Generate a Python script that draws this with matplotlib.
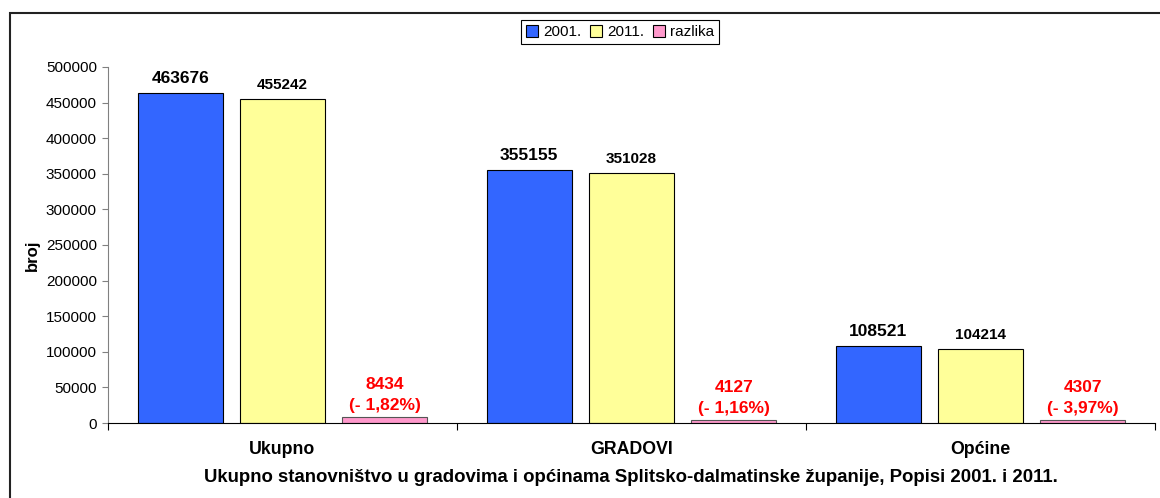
import matplotlib.pyplot as plt
import numpy as np
from matplotlib.patches import Patch, Rectangle

plt.rcParams['font.family'] = ['Liberation Sans', 'DejaVu Sans']

categories = ["Ukupno", "GRADOVI", "Općine"]
pop_2001 = [463676, 355155, 108521]
pop_2011 = [455242, 351028, 104214]
razlika = [8434, 4127, 4307]
razlika_pct = ["- 1,82%", "- 1,16%", "- 3,97%"]
series_names = ["2001.", "2011.", "razlika"]
yticks = [0, 50000, 100000, 150000, 200000, 250000, 300000, 350000, 400000, 450000, 500000]

colors = ["#3366FF", "#FFFF99", "#FF99CC"]

fig = plt.figure(figsize=(11.6, 4.98), dpi=100)
ax = fig.add_axes([108 / 1160, 75 / 498, 1047 / 1160, 356 / 498])

x = np.arange(len(categories))
off = 0.293
w = 0.244

b1 = ax.bar(x - off, pop_2001, w, color=colors[0], edgecolor="black", linewidth=0.8)
b2 = ax.bar(x, pop_2011, w, color=colors[1], edgecolor="black", linewidth=0.8)
b3 = ax.bar(x + off, razlika, w, color=colors[2], edgecolor="#555555", linewidth=0.8)

for rect, v in zip(b1, pop_2001):
    ax.annotate(str(v), xy=(rect.get_x() + rect.get_width() / 2, v), xytext=(0, 5),
                textcoords="offset points", ha="center", va="bottom",
                fontsize=12.5, fontweight="bold")
for rect, v in zip(b2, pop_2011):
    ax.annotate(str(v), xy=(rect.get_x() + rect.get_width() / 2, v), xytext=(0, 5),
                textcoords="offset points", ha="center", va="bottom",
                fontsize=11, fontweight="bold")
for rect, v, p in zip(b3, razlika, razlika_pct):
    ax.annotate(f"{v}\n({p})", xy=(rect.get_x() + rect.get_width() / 2, v), xytext=(0, 3),
                textcoords="offset points", ha="center", va="bottom",
                fontsize=12.5, fontweight="bold", color="#FF0000", linespacing=1.5)

ax.set_xlim(-0.5, len(categories) - 0.5)
ax.set_ylim(0, 500000)
ax.set_yticks(yticks)
ax.set_yticklabels([str(t) for t in yticks], fontsize=11)
ax.tick_params(axis="y", length=4, width=0.8, color="#808080", pad=4)

ax.set_xticks(x)
ax.set_xticklabels(categories, fontsize=12.8, fontweight="bold")
ax.tick_params(axis="x", length=0, pad=13)
ax.set_xticks(np.arange(len(categories) + 1) - 0.5, minor=True)
ax.tick_params(axis="x", which="minor", length=5, width=0.8)

ax.spines["top"].set_visible(False)
ax.spines["right"].set_visible(False)
ax.spines["left"].set_color("#808080")
ax.spines["bottom"].set_color("black")

ax.set_ylabel("broj", fontsize=12, fontweight="bold")
ax.yaxis.set_label_coords(-68 / 1047, 0.47)

fig.text(631 / 1160, 1 - 478 / 498,
         "Ukupno stanovništvo u gradovima i općinama Splitsko-dalmatinske županije, Popisi 2001. i 2011.",
         ha="center", va="center", fontsize=13.4, fontweight="bold")

handles = [Patch(facecolor=c, edgecolor="black", linewidth=0.8) for c in colors]
leg = fig.legend(handles, series_names, loc="center", bbox_to_anchor=(620 / 1160, 1 - 32 / 498),
                 ncol=3, fontsize=11, handlelength=0.8, handleheight=0.8, handletextpad=0.3,
                 columnspacing=0.6, borderpad=0.3, fancybox=False, framealpha=1,
                 edgecolor="black")
leg.get_frame().set_linewidth(0.8)

fig.patches.append(Rectangle((10 / 1160, -0.1), 1.2, 1.1 - 13 / 498, transform=fig.transFigure,
                             fill=False, edgecolor="#222222", linewidth=1.5))

fig.savefig("out.png", dpi=100)
